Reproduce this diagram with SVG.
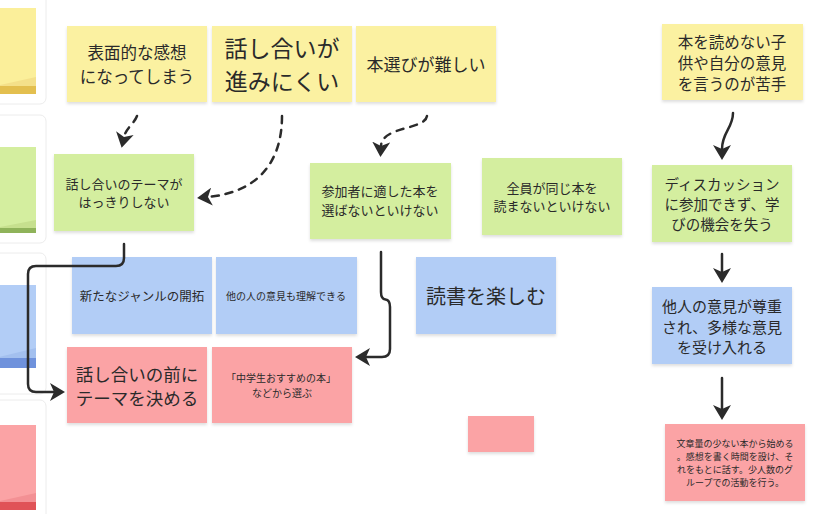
<svg xmlns="http://www.w3.org/2000/svg" width="823" height="514" viewBox="0 0 823 514">
<defs>
<filter id="sh" x="-10%" y="-10%" width="120%" height="130%">
<feDropShadow dx="0" dy="2" stdDeviation="1.5" flood-color="#000" flood-opacity="0.13"/>
</filter>
<marker id="ah" viewBox="0 0 16 18" refX="4" refY="9" markerWidth="16" markerHeight="18" markerUnits="userSpaceOnUse" orient="auto">
<path d="M0,0 L15,9 L0,18 L4,9 Z" fill="#2b2b2b"/>
</marker>
</defs>
<style>
.y{fill:#fbf1a1}
.g{fill:#d4ee9f}
.b{fill:#b2cdf6}
.r{fill:#fba3a5}
.n{filter:url(#sh)}
text{font-family:"Noto Sans CJK JP","Noto Sans",sans-serif;fill:#2a2a2a;text-anchor:middle;dominant-baseline:central}
.panel{fill:#fff;stroke:#ececec;stroke-width:1}
.c{fill:none;stroke:#2b2b2b;stroke-width:2.5;stroke-linecap:round;stroke-linejoin:round}
.d{stroke-dasharray:7 7}
</style>
<rect width="823" height="514" fill="#fff"/>

<g id="sidebar">
<rect class="panel" x="-8" y="-10" width="54" height="114" rx="6"/>
<rect x="-5" y="8" width="41" height="78" fill="#fbef9a"/>
<polygon points="36,77 36,86 -5,86" fill="#f4e08a"/>
<rect x="-5" y="86" width="41" height="8" fill="#e3bf4f"/>

<rect class="panel" x="-8" y="115" width="54" height="128" rx="6"/>
<rect x="-5" y="147" width="41" height="81" fill="#d4ee9f"/>
<polygon points="36,220 36,228 -5,228" fill="#c6e08e"/>
<rect x="-5" y="228" width="41" height="5" fill="#8fb35a"/>

<rect class="panel" x="-8" y="253" width="54" height="141" rx="6"/>
<rect x="-5" y="285" width="41" height="73" fill="#b2cdf6"/>
<polygon points="36,348 36,358 -5,358" fill="#a3c0ef"/>
<rect x="-5" y="358" width="41" height="10" fill="#6f92dc"/>

<rect class="panel" x="-8" y="400" width="54" height="124" rx="6"/>
<rect x="-5" y="425" width="41" height="77" fill="#fba3a5"/>
<polygon points="36,493 36,502 -5,502" fill="#f39094"/>
<rect x="-5" y="502" width="41" height="8" fill="#e05257"/>
</g>

<g id="y1"><rect class="y n" x="67" y="26" width="140" height="76"/>
<text x="137" y="52" font-size="16.5">表面的な感想</text><text x="137" y="76" font-size="16.5">になってしまう</text></g>
<g id="y2"><rect class="y n" x="212" y="26" width="140" height="76"/>
<text x="282" y="47" font-size="23">話し合いが</text><text x="282" y="80" font-size="23">進みにくい</text></g>
<g id="y3"><rect class="y n" x="356" y="26" width="140" height="76"/>
<text x="426" y="63" font-size="17">本選びが難しい</text></g>
<g id="y4"><rect class="y n" x="662" y="24" width="141" height="76"/>
<text x="732" y="41" font-size="15.5">本を読めない子</text><text x="732" y="62" font-size="15.5">供や自分の意見</text><text x="732" y="83" font-size="15.5">を言うのが苦手</text></g>

<g id="g1"><rect class="g n" x="54" y="154" width="140" height="77"/>
<text x="124" y="183" font-size="13">話し合いのテーマが</text><text x="124" y="201" font-size="13">はっきりしない</text></g>
<g id="g2"><rect class="g n" x="310" y="163" width="141" height="76"/>
<text x="380" y="190" font-size="13">参加者に適した本を</text><text x="380" y="209" font-size="13">選ばないといけない</text></g>
<g id="g3"><rect class="g n" x="482" y="158" width="140" height="77"/>
<text x="552" y="187" font-size="13">全員が同じ本を</text><text x="552" y="205" font-size="13">読まないといけない</text></g>
<g id="g4"><rect class="g n" x="652" y="165" width="140" height="77"/>
<text x="722" y="183" font-size="14.5">ディスカッション</text><text x="722" y="203" font-size="14.5">に参加できず、学</text><text x="722" y="223" font-size="14.5">びの機会を失う</text></g>

<g id="b1"><rect class="b n" x="72" y="257" width="140" height="77"/>
<text x="142" y="295" font-size="12.5">新たなジャンルの開拓</text></g>
<g id="b2"><rect class="b n" x="216" y="257" width="141" height="77"/>
<text x="286" y="295" font-size="10">他の人の意見も理解できる</text></g>
<g id="b3"><rect class="b n" x="416" y="257" width="140" height="77"/>
<text x="486" y="295" font-size="20">読書を楽しむ</text></g>
<g id="b4"><rect class="b n" x="652" y="287" width="140" height="77"/>
<text x="722" y="305" font-size="15">他人の意見が尊重</text><text x="722" y="326" font-size="15">され、多様な意見</text><text x="722" y="346" font-size="15">を受け入れる</text></g>

<g id="r1"><rect class="r n" x="67" y="347" width="140" height="76"/>
<text x="137" y="373" font-size="17.5">話し合いの前に</text><text x="137" y="397" font-size="17.5">テーマを決める</text></g>
<g id="r2"><rect class="r n" x="212" y="347" width="140" height="76"/>
<text x="281" y="377" font-size="10">「中学生おすすめの本」</text><text x="282" y="392" font-size="10">などから選ぶ</text></g>
<g id="r3"><rect class="r n" x="468" y="416" width="66" height="36"/></g>
<g id="r4"><rect class="r n" x="665" y="424" width="140" height="77"/>
<text x="735" y="443" font-size="9">文章量の少ない本から始める</text><text x="735" y="456" font-size="9">。感想を書く時間を設け、そ</text><text x="735" y="469" font-size="9">れをもとに話す。少人数のグ</text><text x="735" y="482" font-size="9">ループでの活動を行う。</text></g>

<g id="connectors">
<path class="c d" d="M137,116 C134,124 126,128 124,137" marker-end="url(#ah)"/>
<path class="c d" d="M282,116 C282,160 260,192 208,197" marker-end="url(#ah)"/>
<path class="c d" d="M427,116 C425,130 382,126 381,146" marker-end="url(#ah)"/>
<path class="c" d="M733,113 C733,128 722,132 722,149" marker-end="url(#ah)"/>
<path class="c" d="M722,254 V272" marker-end="url(#ah)"/>
<path class="c" d="M722,378 V409" marker-end="url(#ah)"/>
<path class="c" d="M124,244 V258 Q124,266 116,266 H36 Q28,266 28,274 V384 Q28,392 36,392 H54" marker-end="url(#ah)"/>
<path class="c" d="M381,252 V292 Q381,299 385.5,299.5 Q390,300 390,307 V349 Q390,357 382,357 H366" marker-end="url(#ah)"/>
</g>
</svg>
